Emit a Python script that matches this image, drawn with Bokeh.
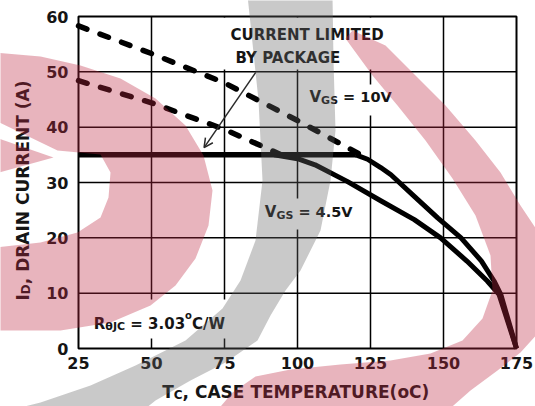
import math

from bokeh.embed import file_html
from bokeh.models import Arrow, FixedTicker, Label, OpenHead, PolyAnnotation, Range1d
from bokeh.plotting import figure
from bokeh.resources import INLINE

# ---------------------------------------------------------------- data
temp_ticks = [25, 50, 75, 100, 125, 150, 175]
current_ticks = [0, 10, 20, 30, 40, 50, 60]

# current limited by the package
package_t = [25, 120]
package_i = [35, 35]

# silicon limit above the package limit (dashed)
vgs10_dash_t = [25, 50, 75, 100, 121]
vgs10_dash_i = [58.3, 53.3, 48.0, 41.2, 35.2]
vgs45_dash_t = [25, 50, 75, 94]
vgs45_dash_i = [48.4, 44.4, 39.6, 35.1]

# derating once below the package limit (solid)
vgs10_t = [120, 124, 128.5, 132, 140, 148, 156, 163, 167.3, 169.6, 175]
vgs10_i = [35, 34.2, 32.7, 31.4, 27.5, 23.6, 20.0, 15.8, 12.2, 9.8, 0]
vgs45_t = [92, 100, 106, 117, 128.5, 140, 149, 158, 165, 169, 175]
vgs45_i = [35, 34.3, 33.2, 30.2, 26.7, 23.3, 20.0, 15.8, 12.2, 9.8, 0]

# ---------------------------------------------------------------- geometry
W, H = 535, 406
T_MIN, T_MAX, I_MIN, I_MAX = 25, 175, 0, 60
# where the chart box sits on the sheet (pixels from the top-left corner)
BOX_L, BOX_R, BOX_T, BOX_B = 78, 516, 16, 348
SX = (BOX_R - BOX_L) / (T_MAX - T_MIN)
SY = (BOX_B - BOX_T) / (I_MAX - I_MIN)

def dx(px):
    return T_MIN + (px - BOX_L) / SX

def dy(py):
    return I_MAX - (py - BOX_T) / SY

FONT = "DejaVu Sans"
INK = "#151515"
BASELINE_FIX = 5.5   # Label draws its alphabetic baseline this far below the anchor

# advance widths of DejaVu Sans Bold (em units) for composing rich labels
ADV = {" ": .348, "(": .457, ")": .457, ",": .380, ".": .380, "/": .365, "=": .838,
       "A": .774, "B": .762, "C": .734, "D": .830, "E": .683, "G": .821, "I": .372,
       "J": .372, "K": .775, "L": .637, "M": .995, "N": .837, "P": .733, "R": .770,
       "S": .720, "T": .682, "U": .812, "V": .774, "W": 1.103, "Y": .724, "o": .687,
       "\u03b8": .687}
for d in "0123456789":
    ADV[d] = .696

def text_w(s, size):
    return sum(ADV.get(c, .7) for c in s) * size

# the frame spans the whole sheet; the axes are pinned to the chart box edges
p = figure(width=W, height=H,
           x_range=Range1d(dx(0), dx(W)), y_range=Range1d(dy(H), dy(0)),
           output_backend="svg", toolbar_location=None, min_border=0)
p.background_fill_color = "white"
p.border_fill_color = "white"
p.outline_line_color = None
p.xgrid.visible = False
p.ygrid.visible = False

p.xaxis.fixed_location = I_MIN
p.yaxis.fixed_location = T_MIN
for ax, ticks in ((p.xaxis[0], temp_ticks), (p.yaxis[0], current_ticks)):
    ax.ticker = FixedTicker(ticks=ticks)
    ax.axis_line_color = None
    ax.major_tick_in = 0
    ax.major_tick_out = 0
    ax.minor_tick_in = 0
    ax.minor_tick_out = 0
    ax.major_label_text_font = FONT
    ax.major_label_text_font_style = "bold"
    ax.major_label_text_font_size = "16px"
    ax.major_label_text_color = INK
p.xaxis.major_label_standoff = 8
p.yaxis.major_label_standoff = 10

# grid
inner_t = temp_ticks[1:-1]
inner_i = current_ticks[1:-1]
p.segment(x0=inner_t, x1=inner_t, y0=[I_MIN] * len(inner_t), y1=[I_MAX] * len(inner_t),
          line_color="black", line_width=1.5)
p.segment(x0=[T_MIN] * len(inner_i), x1=[T_MAX] * len(inner_i), y0=inner_i, y1=inner_i,
          line_color="black", line_width=1.5)

# white backing behind the in-plot notes (they interrupt the grid)
note_boxes = [(220, 17, 390, 69), (304, 84, 393, 115), (259, 198, 352, 229), (88, 299, 226, 338)]
p.quad(left=[dx(b[0]) for b in note_boxes], right=[dx(b[2]) for b in note_boxes],
       top=[dy(b[1]) for b in note_boxes], bottom=[dy(b[3]) for b in note_boxes],
       fill_color="white", line_color=None)

# chart box
p.quad(left=[T_MIN], right=[T_MAX], bottom=[I_MIN], top=[I_MAX],
       fill_color=None, line_color="black", line_width=2)

# curves
p.line(package_t, package_i, line_color="black", line_width=5.5)
p.line(vgs10_dash_t, vgs10_dash_i, line_color="black", line_width=5.5,
       line_dash="9 14", line_cap="round")
p.line(vgs45_dash_t, vgs45_dash_i, line_color="black", line_width=5.5,
       line_dash="9 14", line_cap="round")
p.line(vgs10_t, vgs10_i, line_color="black", line_width=5, line_join="round")
p.line(vgs45_t, vgs45_i, line_color="black", line_width=5, line_join="round")

p.add_layout(Arrow(end=OpenHead(size=9, line_width=1.5, line_color="#2a2a2a"),
                   x_start=85.7, y_start=49.9, x_end=68.0, y_end=36.3,
                   line_width=1.5, line_color="#2a2a2a"))

def rich(pieces, x, y, rotated=False):
    """Lay out (text, size, drop) pieces one after another; drop moves a piece below the baseline."""
    for text, size, drop in pieces:
        lead = len(text) - len(text.lstrip(" "))
        adv = lead * ADV[" "] * size
        if rotated:
            y -= adv
        else:
            x += adv
        text = text.strip(" ")
        if rotated:
            lab = Label(x=dx(x + drop - BASELINE_FIX), y=dy(y), text=text, angle=math.pi / 2)
        else:
            lab = Label(x=dx(x), y=dy(y + drop - BASELINE_FIX), text=text)
        lab.text_font = FONT
        lab.text_font_style = "bold"
        lab.text_font_size = f"{size}px"
        lab.text_color = INK
        lab.text_align = "left"
        lab.text_baseline = "alphabetic"
        p.add_layout(lab)
        if rotated:
            y -= text_w(text, size)
        else:
            x += text_w(text, size)

rich([("CURRENT LIMITED", 15, 0)], 230, 40)
rich([("BY PACKAGE", 15, 0)], 235, 63.3)
rich([("V", 15, 0), ("GS", 11, 3.5), (" = 10V", 14.5, 0)], 309, 101.7)
rich([("V", 15, 0), ("GS", 11, 3.5), (" = 4.5V", 14.5, 0)], 264.3, 216.7)
rich([("R", 15, 0), ("\u03b8JC", 11, 2.5), (" = 3.03", 15, 0), ("o", 10, -9), ("C/W", 15, 0)],
     93.3, 329.3)

# axis titles
rich([("T", 17, 0), ("C", 12, 3), (", CASE TEMPERATURE(oC)", 17, 0)], 161.7, 397.3)
rich([("I", 17, 0), ("D", 12, 3), (", DRAIN CURRENT (A)", 17, 0)], 28, 300, rotated=True)

# translucent logo watermark laid over the whole sheet
PINK = (189, 41, 66)
GREY = (101, 101, 101)
logo_left = [(-5, 52), (40, 56), (80, 65), (120, 78), (155, 98), (185, 125), (203, 155),
             (212, 190), (208, 225), (195, 258), (175, 285), (150, 305), (110, 322),
             (60, 330), (-5, 330), (-5, 247), (40, 242), (77, 232), (100, 217), (108, 197),
             (110, 172), (100, 154), (57, 150), (-5, 120)]
logo_tongue = [(-5, 137), (53, 157), (-5, 173)]
logo_arc = [(247, -5), (258, 100), (262, 180), (255, 240), (240, 280), (222, 308), (185, 340),
            (135, 365), (90, 385), (40, 402), (0, 412), (140, 412), (155, 400), (190, 380),
            (225, 362), (257, 340), (270, 315), (285, 290), (300, 270), (320, 230),
            (330, 180), (335, 130), (333, 60), (332, -5)]
logo_right = [(215, 412), (232, 392), (255, 376), (290, 369), (340, 364), (390, 360),
              (430, 353), (462, 340), (482, 318), (492, 290), (490, 255), (475, 215),
              (452, 178), (425, 140), (397, 105), (372, 75), (345, 38), (352, 30),
              (385, 45), (415, 75), (445, 105), (475, 140), (500, 172), (520, 205),
              (540, 235), (540, 330), (520, 352), (497, 370), (470, 390), (445, 412)]

for shape, rgb in ((logo_left, PINK), (logo_tongue, PINK), (logo_arc, GREY), (logo_right, PINK)):
    p.add_layout(PolyAnnotation(xs=[dx(a) for a, _ in shape], ys=[dy(b) for _, b in shape],
                                fill_color="#%02x%02x%02x" % rgb, fill_alpha=0.35,
                                line_color=None, level="overlay"))

open("out.html", "w").write(file_html(p, INLINE))
